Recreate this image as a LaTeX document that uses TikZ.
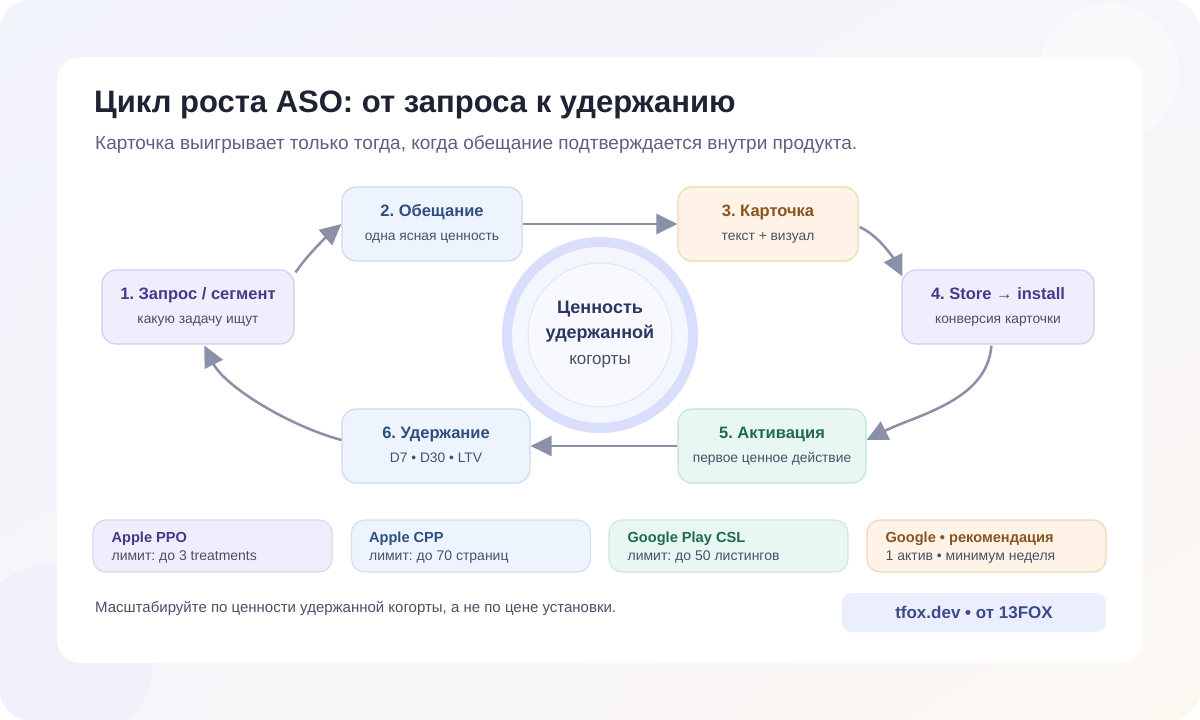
\documentclass[tikz,border=0pt]{standalone}
\usepackage{fontspec}
\setmainfont{Liberation Sans}
\usetikzlibrary{arrows.meta,calc,shadings}
\frenchspacing
\definecolor{bgA}{HTML}{F1F3FB}
\definecolor{bgB}{HTML}{FCF7F1}
\definecolor{bgC}{HTML}{F6F5FA}
\definecolor{ttl}{HTML}{1E2333}
\definecolor{subc}{HTML}{5A6282}
\definecolor{muted}{HTML}{4A5069}
\definecolor{arrc}{HTML}{8A90A8}
\definecolor{pFill}{HTML}{F0EEFD}\definecolor{pLine}{HTML}{D2CCF1}\definecolor{pText}{HTML}{433A8C}
\definecolor{bFill}{HTML}{EEF4FD}\definecolor{bLine}{HTML}{C8DBF2}\definecolor{bText}{HTML}{2E4F80}
\definecolor{oFill}{HTML}{FEF3E6}\definecolor{oLine}{HTML}{EFD6B6}\definecolor{oText}{HTML}{8A5420}
\definecolor{gFill}{HTML}{E9F7F3}\definecolor{gLine}{HTML}{C0E4D7}\definecolor{gText}{HTML}{1F6B4F}
\definecolor{ringc}{HTML}{D9DEFC}
\definecolor{ringin}{HTML}{F4F6FE}
\definecolor{corefill}{HTML}{F8F9FE}
\definecolor{coreline}{HTML}{E2E6F5}
\definecolor{coretxt}{HTML}{2A3760}
\definecolor{badgefill}{HTML}{EBEFFD}
\definecolor{badgetxt}{HTML}{3C4A8A}
\definecolor{blob}{HTML}{EEECFA}
\tikzset{
  stepbox/.style={draw, rounded corners=14pt, line width=1.2pt, minimum height=74pt, inner sep=0pt},
  infobox/.style={draw, rounded corners=13pt, line width=1.2pt, minimum width=239pt, minimum height=52pt, inner sep=0pt},
  boxtitle/.style={anchor=base, inner sep=0pt, font=\bfseries\fontsize{16.5}{19}\selectfont},
  boxsub/.style={anchor=base, inner sep=0pt, text=muted, font=\fontsize{13.8}{16}\selectfont},
  cardtitle/.style={anchor=base west, inner sep=0pt, font=\bfseries\fontsize{14.6}{17}\selectfont},
  cardsub/.style={anchor=base west, inner sep=0pt, text=muted, font=\fontsize{14}{16}\selectfont},
  arr/.style={draw=arrc, line width=2.5pt, -{Triangle[length=21pt,width=20pt]}},
}
\begin{document}
\begin{tikzpicture}[x=1pt,y=-1pt]
\useasboundingbox (0,0) rectangle (1200,720);
\fill[white] (0,0) rectangle (1200,720);
\shade[rounded corners=30pt, upper left=bgA, upper right=bgC, lower left=bgC, lower right=bgB] (0,0) rectangle (1200,720);
\begin{scope}
\clip[rounded corners=30pt] (0,0) rectangle (1200,720);
\fill[white, opacity=0.35] (1109,73) circle (70);
\fill[blob, opacity=0.55] (58,658) circle (95);
\end{scope}
\fill[white, rounded corners=24pt] (57,57) rectangle (1143,663);

\node[anchor=base west, inner sep=0pt, text=ttl, font=\bfseries\fontsize{31}{36}\selectfont] (title) at (94,112) {Цикл роста ASO: от запроса к удержанию};
\node[anchor=base west, inner sep=0pt, text=subc, font=\fontsize{19}{22}\selectfont] (subtitle) at (95,149) {Карточка выигрывает только тогда, когда обещание подтверждается внутри продукта.};

% center
\node[circle, fill=ringin, draw=ringc, line width=10pt, minimum size=186pt, inner sep=0pt] (ring) at (600,335) {};
\node[circle, fill=corefill, draw=coreline, line width=1pt, minimum size=144pt, inner sep=0pt] (core) at (600,335) {};
\node[anchor=base, inner sep=0pt, text=coretxt, font=\bfseries\fontsize{18}{20}\selectfont] (c1) at (600,313) {Ценность};
\node[anchor=base, inner sep=0pt, text=coretxt, font=\bfseries\fontsize{18}{20}\selectfont] (c2) at (600,338) {удержанной};
\node[anchor=base, inner sep=0pt, text=muted, font=\fontsize{17}{20}\selectfont] (c3) at (600,364) {когорты};

% steps
\node[stepbox, fill=pFill, draw=pLine, minimum width=192pt] (n1) at (198,307) {};
\node[stepbox, fill=bFill, draw=bLine, minimum width=180pt] (n2) at (432,224) {};
\node[stepbox, fill=oFill, draw=oLine, minimum width=180pt] (n3) at (768,224) {};
\node[stepbox, fill=pFill, draw=pLine, minimum width=192pt] (n4) at (998,307) {};
\node[stepbox, fill=gFill, draw=gLine, minimum width=188pt] (n5) at (772,446) {};
\node[stepbox, fill=bFill, draw=bLine, minimum width=188pt] (n6) at (436,446) {};

\node[boxtitle, text=pText] at ($(n1.center)+(0,-8)$) {1. Запрос / сегмент};
\node[boxsub] at ($(n1.center)+(0,16)$) {какую задачу ищут};
\node[boxtitle, text=bText] at ($(n2.center)+(0,-8)$) {2. Обещание};
\node[boxsub] at ($(n2.center)+(0,16)$) {одна ясная ценность};
\node[boxtitle, text=oText] at ($(n3.center)+(0,-8)$) {3. Карточка};
\node[boxsub] at ($(n3.center)+(0,16)$) {текст + визуал};
\node[boxtitle, text=pText] at ($(n4.center)+(0,-8)$) {4. Store → install};
\node[boxsub] at ($(n4.center)+(0,16)$) {конверсия карточки};
\node[boxtitle, text=gText] at ($(n5.center)+(0,-8)$) {5. Активация};
\node[boxsub] at ($(n5.center)+(0,16)$) {первое ценное действие};
\node[boxtitle, text=bText] at ($(n6.center)+(0,-8)$) {6. Удержание};
\node[boxsub] at ($(n6.center)+(0,16)$) {D7 • D30 • LTV};

% arrows
\draw[arr] ($(n1.north east)+(1,3)$) .. controls +(12,-18) and +(-14,12) .. (n2.west);
\draw[arr] (n2.east) -- (n3.west);
\draw[arr] ($(n3.east)+(1,3)$) .. controls +(18,8) and +(-10,-20) .. ($(n4.north west)+(1,7)$);
\draw[arr] ($(n4.south west)+(90,1)$) .. controls +(-4,55) and +(50,-25) .. ($(n5.east)+(0,-6)$);
\draw[arr] (n5.west) -- (n6.east);
\draw[arr] ($(n6.west)+(0,-6)$) .. controls +(-55,-15) and +(20,40) .. ($(n1.south west)+(103,1)$);

% info cards
\node[infobox, fill=pFill, draw=pLine!80!white] (k1) at (212.5,546) {};
\node[infobox, fill=bFill, draw=bLine!80!white] (k2) at (471,546) {};
\node[infobox, fill=gFill, draw=gLine!80!white] (k3) at (728.5,546) {};
\node[infobox, fill=oFill, draw=oLine] (k4) at (986.5,546) {};
\node[cardtitle, text=pText] at ($(k1.west)+(19,-4)$) {Apple PPO};
\node[cardsub] at ($(k1.west)+(19,14.5)$) {лимит: до 3 treatments};
\node[cardtitle, text=bText] at ($(k2.west)+(18,-4)$) {Apple CPP};
\node[cardsub] at ($(k2.west)+(18,14.5)$) {лимит: до 70 страниц};
\node[cardtitle, text=gText] at ($(k3.west)+(19,-4)$) {Google Play CSL};
\node[cardsub] at ($(k3.west)+(19,14.5)$) {лимит: до 50 листингов};
\node[cardtitle, text=oText] at ($(k4.west)+(19,-4)$) {Google • рекомендация};
\node[cardsub] at ($(k4.west)+(19,14.5)$) {1 актив • минимум неделя};

% footer
\node[anchor=base west, inner sep=0pt, text=muted, font=\fontsize{15}{17}\selectfont] (foot) at (95,612.5) {Масштабируйте по ценности удержанной когорты, а не по цене установки.};
\node[fill=badgefill, rounded corners=10pt, minimum width=264pt, minimum height=39pt, inner sep=0pt] (badge) at (974,612.5) {};
\node[anchor=base, inner sep=0pt, text=badgetxt, font=\bfseries\fontsize{17}{19}\selectfont] at ($(badge.center)+(0,6)$) {tfox.dev • от 13FOX};
\end{tikzpicture}
\end{document}
